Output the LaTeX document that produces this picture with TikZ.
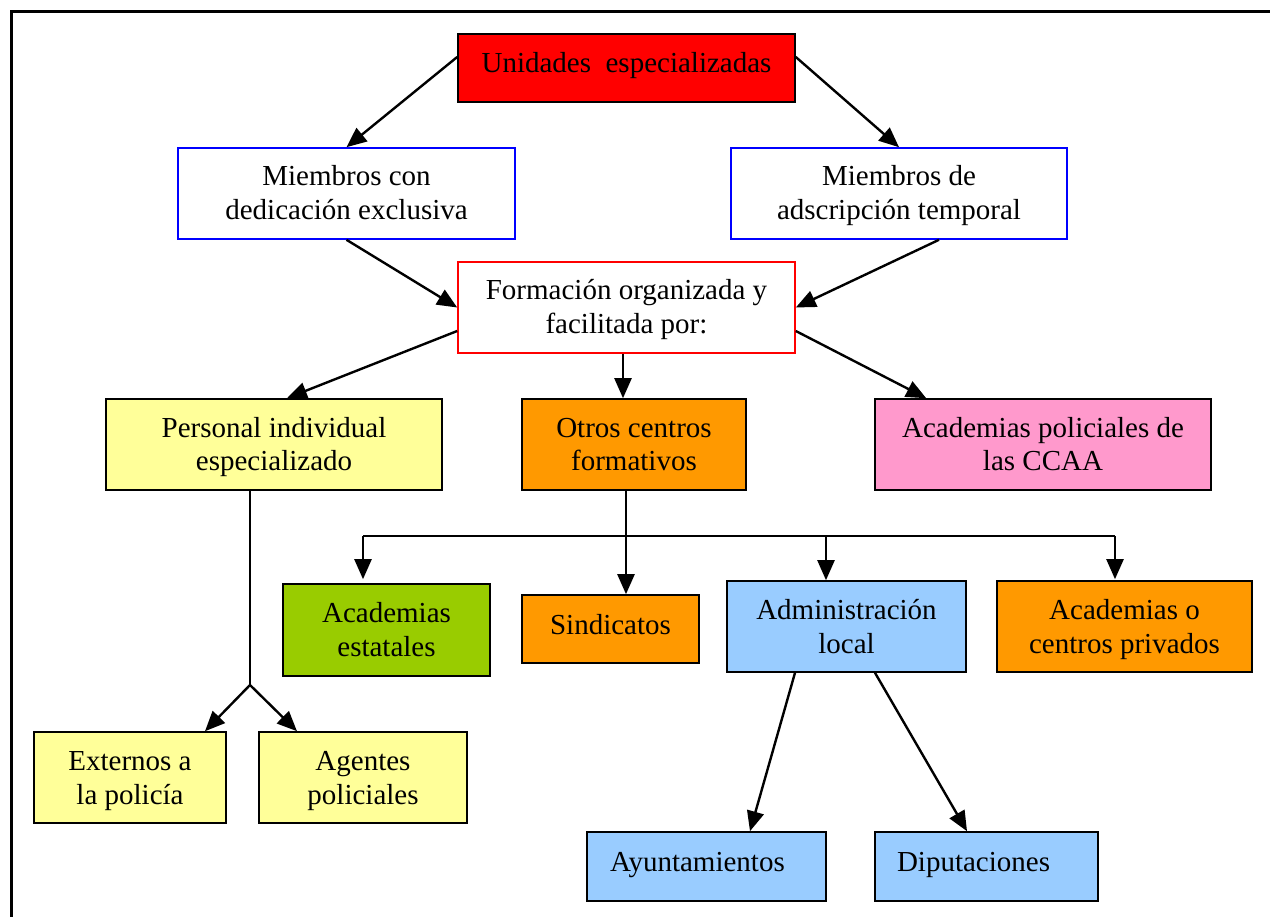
\documentclass[tikz,border=0pt]{standalone}
\usepackage{fontspec}
\setmainfont{Liberation Serif}
\usetikzlibrary{arrows.meta}
\definecolor{cred}{HTML}{FF0000}
\definecolor{cyellow}{HTML}{FFFF99}
\definecolor{corange}{HTML}{FF9900}
\definecolor{cpink}{HTML}{FF99CC}
\definecolor{cgreen}{HTML}{99CC00}
\definecolor{cblue}{HTML}{99CCFF}
\definecolor{cborder}{HTML}{0000FF}
% struts for one-line and two-line labels
\newcommand\onel{\rule[-12pt]{0pt}{34pt}}
\newcommand\twol{\rule[-7.5pt]{0pt}{34pt}}
\tikzset{
  box/.style={draw=black, line width=1.6pt, align=center, inner sep=0pt,
    font=\fontsize{29}{34}\selectfont},
  wbox/.style={box, draw=cborder, fill=white},
  arr/.style={line width=2.4pt, -{Triangle[length=20pt,width=17pt]}},
  thin/.style={line width=1.5pt},
}
\begin{document}
\begin{tikzpicture}[x=1pt, y=-1pt]
\useasboundingbox (0,0) rectangle (1270,917);
% outer frame
\draw[line width=3pt] (11,12) rectangle (1290,940);

% boxes
\node[box, fill=cred, minimum width=337pt, minimum height=68pt] (u) at (626.5,68) {Unidades\ \ especializadas\onel};
\node[wbox, minimum width=337pt, minimum height=91pt] (m1) at (346.5,193.5) {Miembros con\twol\\dedicación exclusiva\twol};
\node[wbox, minimum width=336pt, minimum height=91pt] (m2) at (899,193.5) {Miembros de\twol\\adscripción temporal\twol};
\node[box, draw=cred, fill=white, minimum width=337pt, minimum height=91pt] (f) at (626.5,307.5) {Formación organizada y\twol\\facilitada por:\twol};
\node[box, fill=cyellow, minimum width=336pt, minimum height=91pt] (p) at (274,444.5) {Personal individual\twol\\especializado\twol};
\node[box, fill=corange, minimum width=224pt, minimum height=91pt] (o) at (634,444.5) {Otros centros\twol\\formativos\twol};
\node[box, fill=cpink, minimum width=336pt, minimum height=91pt] (ac) at (1043,444.5) {Academias policiales de\twol\\las CCAA\twol};
\node[box, fill=cgreen, minimum width=207pt, minimum height=92pt] (ae) at (386.5,630) {Academias\twol\\estatales\twol};
\node[box, fill=corange, minimum width=177pt, minimum height=68pt] (s) at (610.5,629) {Sindicatos\onel};
\node[box, fill=cblue, minimum width=239pt, minimum height=91pt] (al) at (846.5,626.5) {Administración\twol\\local\twol};
\node[box, fill=corange, minimum width=255pt, minimum height=91pt] (acp) at (1124.5,626.5) {Academias o\twol\\centros privados\twol};
\node[box, fill=cyellow, minimum width=192pt, minimum height=91pt] (ex) at (130,777.5) {Externos a\twol\\la policía\twol};
\node[box, fill=cyellow, minimum width=208pt, minimum height=91pt] (ag) at (363,777.5) {Agentes\twol\\policiales\twol};
\node[box, fill=cblue, minimum width=239pt, minimum height=69pt] (ay) at (706.5,866.5) {\hspace*{-18pt}Ayuntamientos\onel};
\node[box, fill=cblue, minimum width=223pt, minimum height=69pt] (di) at (986.5,866.5) {\hspace*{-26pt}Diputaciones\onel};

% top level
\draw[arr] ([yshift=11pt]u.west) -- (m1.north);
\draw[arr] ([yshift=11pt]u.east) -- (m2.north);
\draw[arr] (m1.south) -- (f.west);
\draw[arr] ([xshift=40pt]m2.south) -- (f.east);

% from the training box
\draw[arr] ([yshift=-23.5pt]f.west) -- ([xshift=13pt]p.north);
\draw[arr] ([xshift=-3.5pt]f.south) -- ([xshift=-3.5pt]f.south |- o.north);
\draw[arr] ([yshift=-23.5pt]f.east) -- ([xshift=52pt]ac.north west);

% bus under the other centres
\coordinate (busc) at (626,536);
\coordinate (bl) at (363,536);
\coordinate (bm) at (826,536);
\coordinate (br) at (1115,536);
\draw[thin] ([xshift=-8pt]o.south) -- (busc);
\draw[line width=2.4pt] (bl) -- (br);
\draw[arr, shorten >=4pt] (bl) -- (bl |- ae.north);
\draw[arr] (busc) -- (busc |- s.north);
\draw[arr] (bm) -- (bm |- al.north);
\draw[arr, shorten >=1pt] (br) -- (br |- acp.north);

% individual staff
\coordinate (fork) at (250,685);
\draw[thin] ([xshift=-24pt]p.south) -- (fork);
\draw[arr] (fork) -- ([xshift=75pt]ex.north);
\draw[arr] (fork) -- ([xshift=-66pt]ag.north);

% local administration
\draw[arr] ([xshift=-51.5pt]al.south) -- ([xshift=43.5pt]ay.north);
\draw[arr] ([xshift=28.5pt]al.south) -- ([xshift=-19.5pt]di.north);
\end{tikzpicture}
\end{document}
